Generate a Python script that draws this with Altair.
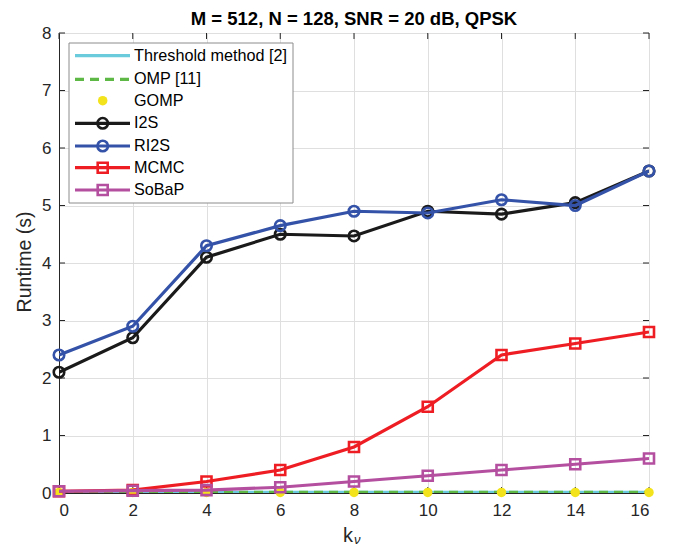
import altair as alt
import pandas as pd

k_nu = [0, 2, 4, 6, 8, 10, 12, 14, 16]
threshold = [0.01] * 9
omp = [0.01] * 9
gomp = [0.01] * 9
i2s = [2.1, 2.7, 4.1, 4.5, 4.47, 4.9, 4.85, 5.05, 5.6]
ri2s = [2.4, 2.9, 4.3, 4.65, 4.9, 4.87, 5.1, 5.0, 5.6]
mcmc = [0.03, 0.05, 0.2, 0.4, 0.8, 1.5, 2.4, 2.6, 2.8]
sobap = [0.03, 0.04, 0.05, 0.1, 0.2, 0.3, 0.4, 0.5, 0.6]

names = ["Threshold method [2]", "OMP [11]", "GOMP", "I2S", "RI2S", "MCMC", "SoBaP"]
values = [threshold, omp, gomp, i2s, ri2s, mcmc, sobap]
colors = ["#6ACBDC", "#5DB846", "#F2E31C", "#1A1A1A", "#3352A8", "#EE1D24", "#B44FA0"]
lines = [True, True, False, True, True, True, True]
dashes = [None, [9, 6], None, None, None, None, None]
markers = [None, None, "circle", "circle", "circle", "square", "square"]
filled = [False, False, True, False, False, False, False]

title_text = "M = 512, N = 128, SNR = 20 dB, QPSK"
ylabel_text = "Runtime (s)"

W, H = 590, 460
FONT = "Liberation Sans"
AX = "#262626"

xs = alt.Scale(domain=[0, 16], nice=False)
ys = alt.Scale(domain=[0, 8], nice=False)

layers = []
base_df = pd.DataFrame({"k": k_nu, "v": i2s})
axes_layer = alt.Chart(base_df).mark_point(opacity=0).encode(
    x=alt.X("k:Q", scale=xs, axis=alt.Axis(values=list(range(0, 17, 2)), title=None, ticks=False, format="d",
                                         labelPadding=9, labelFontSize=17, labelColor=AX, labelFont=FONT,
                                         gridColor="#DFDFDF", domainColor=AX)),
    y=alt.Y("v:Q", scale=ys, axis=alt.Axis(values=list(range(0, 9)), title=None, ticks=False, format="d",
                                         labelPadding=8, labelFontSize=17, labelColor=AX, labelFont=FONT,
                                         gridColor="#DFDFDF", domainColor=AX)),
)
layers.append(axes_layer)

# inward ticks
xt = pd.DataFrame({"k": list(range(0, 17, 2))})
yt = pd.DataFrame({"v": list(range(0, 9))})
layers.append(alt.Chart(xt).mark_rule(color=AX, strokeWidth=1).encode(
    x=alt.X("k:Q", scale=xs), y=alt.value(H), y2=alt.value(H - 6)))
layers.append(alt.Chart(xt).mark_rule(color=AX, strokeWidth=1).encode(
    x=alt.X("k:Q", scale=xs), y=alt.value(0), y2=alt.value(6)))
layers.append(alt.Chart(yt).mark_rule(color=AX, strokeWidth=1).encode(
    y=alt.Y("v:Q", scale=ys), x=alt.value(0), x2=alt.value(6)))
layers.append(alt.Chart(yt).mark_rule(color=AX, strokeWidth=1).encode(
    y=alt.Y("v:Q", scale=ys), x=alt.value(W), x2=alt.value(W - 6)))

for name, vals, c, ln, dash, mk, fl in zip(names, values, colors, lines, dashes, markers, filled):
    df = pd.DataFrame({"k": k_nu, "v": vals})
    enc = dict(x=alt.X("k:Q", scale=xs), y=alt.Y("v:Q", scale=ys))
    if ln:
        kw = dict(color=c, strokeWidth=3.2, clip=True)
        if dash:
            kw["strokeDash"] = dash
        layers.append(alt.Chart(df).mark_line(**kw).encode(**enc))
    if mk:
        if fl:
            layers.append(alt.Chart(df).mark_point(shape=mk, filled=True, color=c, size=90, opacity=1).encode(**enc))
        else:
            layers.append(alt.Chart(df).mark_point(shape=mk, filled=False, color=c, size=110 if mk == "circle" else 100,
                                                   strokeWidth=2.6, opacity=1).encode(**enc))

# legend
box = pd.DataFrame({"x1": [10], "x2": [234], "y1": [10], "y2": [170]})
layers.append(alt.Chart(box).mark_rect(fill="white", stroke="#8C8C8C", strokeWidth=1).encode(
    x=alt.X("x1:Q", scale=None), x2="x2:Q", y=alt.Y("y1:Q", scale=None), y2="y2:Q"))

ly = [22.7, 46.3, 67.7, 90.3, 113, 134.7, 157]
for i, (name, c, ln, dash, mk, fl) in enumerate(zip(names, colors, lines, dashes, markers, filled)):
    ldf = pd.DataFrame({"x1": [16], "x2": [71], "xm": [43.7], "xt": [75], "y": [ly[i]], "label": [name]})
    if ln:
        kw = dict(color=c, strokeWidth=3.2)
        if dash:
            kw["strokeDash"] = dash
        layers.append(alt.Chart(ldf).mark_rule(**kw).encode(
            x=alt.X("x1:Q", scale=None), x2="x2:Q", y=alt.Y("y:Q", scale=None)))
    if mk:
        if fl:
            layers.append(alt.Chart(ldf).mark_point(shape=mk, filled=True, color=c, size=90, opacity=1).encode(
                x=alt.X("xm:Q", scale=None), y=alt.Y("y:Q", scale=None)))
        else:
            layers.append(alt.Chart(ldf).mark_point(shape=mk, filled=False, color=c, size=110 if mk == "circle" else 100,
                                                    strokeWidth=2.6, opacity=1).encode(
                x=alt.X("xm:Q", scale=None), y=alt.Y("y:Q", scale=None)))
    layers.append(alt.Chart(ldf).mark_text(align="left", baseline="middle", fontSize=16.2, font=FONT, color="#000000").encode(
        x=alt.X("xt:Q", scale=None), y=alt.Y("y:Q", scale=None), text="label:N"))

# title
tdf = pd.DataFrame({"x": [W / 2], "y": [-8], "t": [title_text]})
layers.append(alt.Chart(tdf).mark_text(align="center", baseline="alphabetic", fontSize=18.5, font=FONT,
                                       fontWeight="bold", color="#000000").encode(
    x=alt.X("x:Q", scale=None), y=alt.Y("y:Q", scale=None), text="t:N"))

# y title
ydf = pd.DataFrame({"x": [-34], "y": [H / 2 - 1], "t": [ylabel_text]})
layers.append(alt.Chart(ydf).mark_text(align="center", baseline="middle", fontSize=19.5, font=FONT, color=AX,
                                       angle=270).encode(
    x=alt.X("x:Q", scale=None), y=alt.Y("y:Q", scale=None), text="t:N"))

# x-axis title k_nu
kt = pd.DataFrame({"x": [W / 2 - 6], "y": [H + 43], "t": ["k"]})
nt = pd.DataFrame({"x": [W / 2 + 0], "y": [H + 47], "t": ["ν"]})
layers.append(alt.Chart(kt).mark_text(align="center", baseline="middle", fontSize=20, font=FONT, color=AX).encode(
    x=alt.X("x:Q", scale=None), y=alt.Y("y:Q", scale=None), text="t:N"))
layers.append(alt.Chart(nt).mark_text(align="left", baseline="middle", fontSize=13, font=FONT, color=AX,
                                      fontStyle="italic").encode(
    x=alt.X("x:Q", scale=None), y=alt.Y("y:Q", scale=None), text="t:N"))

chart = alt.layer(*layers).properties(
    width=W, height=H,
    autosize=alt.AutoSizeParams(type="none"),
    padding={"left": 51, "top": 25, "right": 24, "bottom": 55},
).configure_view(stroke=AX, strokeWidth=1).configure(background="white")

chart.save("out.html", embed_options={"renderer": "svg", "actions": False})
